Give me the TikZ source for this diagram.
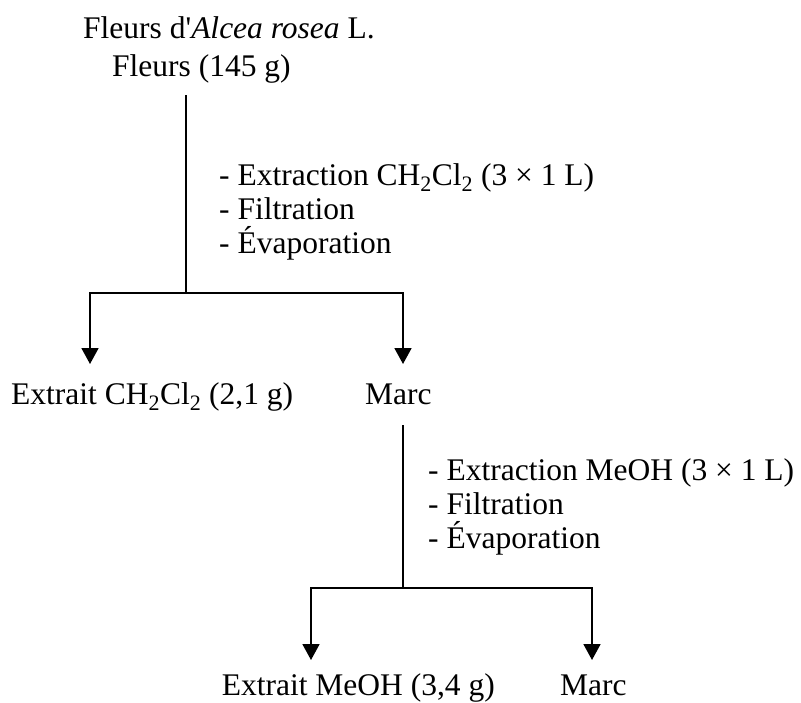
\documentclass[tikz,border=0pt]{standalone}
\usepackage{fontspec}
\setmainfont{Liberation Serif}[Ligatures=TeXOff]
\usetikzlibrary{arrows.meta}
\newcommand{\chsub}[1]{\textsubscript{#1}}
\begin{document}
\begin{tikzpicture}[x=1pt,y=-1pt,
  lbl/.style={font=\fontsize{31.5}{36}\selectfont, inner sep=0pt, anchor=base west},
  conn/.style={line width=1.8pt, line cap=rect},
  arr/.style={line width=1.8pt, -{Triangle[width=17pt,length=16pt]}}]
\useasboundingbox (0,0) rectangle (801,702);
% top
\node[lbl] (t1) at (83,38) {Fleurs d'\textit{Alcea rosea} L.};
\node[lbl] (t2) at (112,76) {Fleurs (145 g)};
\coordinate (s1) at (186,96);
\coordinate (j1) at (186,293);
\coordinate (l1) at (90,293);
\coordinate (r1) at (403,293);
\coordinate (tl1) at (90,364);
\coordinate (tr1) at (403,364);
\node[lbl] (p11) at (219,185) {- Extraction CH\chsub{2}Cl\chsub{2} (3 × 1 L)};
\node[lbl] (p12) at (219,219) {- Filtration};
\node[lbl] (p13) at (219,253) {- Évaporation};
\draw[conn] (s1) -- (j1);
\draw[conn] (l1) -- (r1);
\draw[arr] (l1) -- (tl1);
\draw[arr] (r1) -- (tr1);
% middle
\node[lbl] (e1) at (11,404) {Extrait CH\chsub{2}Cl\chsub{2} (2,1 g)};
\node[lbl] (m1) at (365,404) {Marc};
\coordinate (s2) at (403,426);
\coordinate (j2) at (403,588);
\coordinate (l2) at (311,588);
\coordinate (r2) at (592,588);
\coordinate (tl2) at (311,660);
\coordinate (tr2) at (592,660);
\node[lbl] (p21) at (428,480) {- Extraction MeOH (3 × 1 L)};
\node[lbl] (p22) at (428,514) {- Filtration};
\node[lbl] (p23) at (428,548) {- Évaporation};
\draw[conn] (s2) -- (j2);
\draw[conn] (l2) -- (r2);
\draw[arr] (l2) -- (tl2);
\draw[arr] (r2) -- (tr2);
% bottom
\node[lbl, anchor=base east] (e2) at (495,695) {Extrait MeOH (3,4 g)};
\node[lbl] (m2) at (560,695) {Marc};
\end{tikzpicture}
\end{document}
